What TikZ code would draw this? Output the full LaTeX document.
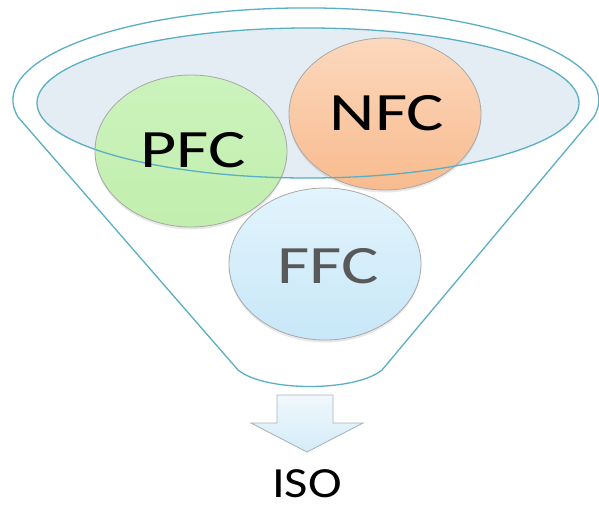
\documentclass[tikz,border=0pt]{standalone}
\usepackage{graphicx}
\usepackage{fontspec}
\setmainfont{Carlito}
\usetikzlibrary{shapes.geometric,shadows}
\definecolor{funnelline}{HTML}{5AAFC4}
\definecolor{bowlfill}{HTML}{E3EDF3}
\definecolor{circleborder}{HTML}{A8A8A8}
\definecolor{pfctop}{HTML}{CBF3BC}
\definecolor{pfcbot}{HTML}{C2EEAE}
\definecolor{nfctop}{HTML}{FCD8BE}
\definecolor{nfcbot}{HTML}{F8BB8E}
\definecolor{ffctop}{HTML}{E2F4FC}
\definecolor{ffcbot}{HTML}{C8E7F8}
\definecolor{ffctext}{HTML}{595959}
\definecolor{arrowline}{HTML}{A9B6BE}
\definecolor{arrowtop}{HTML}{F0F8FC}
\definecolor{arrowbot}{HTML}{D4ECF8}
\newcommand{\widelabel}[1]{\scalebox{1.3}[1]{#1}}
\tikzset{
  funnelstroke/.style={draw=funnelline, line width=1.3pt},
  bubble/.style={ellipse, draw=circleborder, line width=0.8pt, minimum width=192pt, minimum height=152pt,
    inner sep=0pt,
    drop shadow={opacity=0.18, shadow xshift=0pt, shadow yshift=-2.5pt}},
  bubbletext/.style={font=\fontsize{54}{54}\selectfont, inner sep=0pt},
  isolabel/.style={font=\fontsize{43}{43}\selectfont, text=black, inner sep=0pt},
}
\begin{document}
\begin{tikzpicture}[x=1pt,y=1pt]
\useasboundingbox (0,0) rectangle (599,-507);
\fill[white] (0,0) rectangle (599,-507);
% outer funnel outline
\coordinate (fl) at (238,-370);
\coordinate (fr) at (382,-370);
\draw[funnelstroke, line join=round]
  (18,-117) arc[start angle=190.7, end angle=-10.7, x radius=293, y radius=92]
  -- (fr) .. controls (355,-392) and (265,-392) .. (fl) -- cycle;
% inner bowl fill
\fill[bowlfill] (308,-103) ellipse[x radius=271, y radius=75];
% bubbles
\node[bubble, top color=pfctop, bottom color=pfcbot] (pfc) at (191,-151) {};
\node[bubble, top color=nfctop, bottom color=nfcbot] (nfc) at (385,-114) {};
\node[bubble, top color=ffctop, bottom color=ffcbot] (ffc) at (325,-264) {};
% inner bowl outline on top
\draw[funnelstroke] (308,-103) ellipse[x radius=271, y radius=75];
% labels
\node[bubbletext, text=black, anchor=base] (pfct) at (193,-167) {\widelabel{PFC}};
\node[bubbletext, text=black, anchor=base] (nfct) at (387,-130) {\widelabel{NFC}};
\node[bubbletext, text=ffctext, anchor=base] (ffct) at (328,-283) {\widelabel{FFC}};
% down arrow
\draw[draw=arrowline, line width=0.9pt, line join=miter, top color=arrowtop, bottom color=arrowbot]
  (277,-395) -- (333,-395) -- (333,-423) -- (363,-423) -- (307,-452) -- (251,-423) -- (277,-423) -- cycle;
\node[isolabel, anchor=base] (iso) at (307,-497) {\scalebox{1.18}[1]{ISO}};
\end{tikzpicture}
\end{document}
